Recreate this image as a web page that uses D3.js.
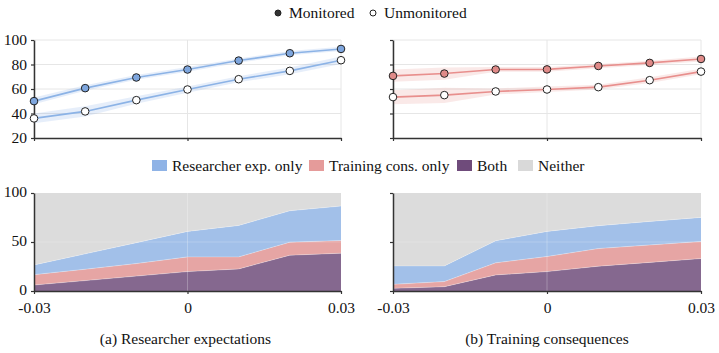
<!DOCTYPE html>
<html><head><meta charset="utf-8">
<script src="https://cdn.jsdelivr.net/npm/d3@7"></script>
<style>
body{margin:0;background:#fff;}
svg{display:block;}
</style></head><body>
<svg id="c" width="719" height="353" font-family="Liberation Serif, serif"></svg>
<script>
const xs = [-0.03,-0.02,-0.01,0,0.01,0.02,0.03];
const xTicks = [-0.03,0,0.03];
const xTickLabels = ["-0.03","0","0.03"];
const yTicksTop = [20,40,60,80,100];
const yTicksBottom = [0,50,100];

// Top panels: compliance rate (%) with CI
const resMon = [50.1,60.7,69.4,75.9,83.2,89.2,92.7];
const resMonLo = [47.5,58.5,67.5,74,81.5,87.5,91];
const resMonHi = [53,63,71.5,78,85,91,94.5];
const resUnmon = [36,41.7,50.9,59.6,68,74.8,83.5];
const resUnmonLo = [32,37.5,48,57,65.5,72,80.5];
const resUnmonHi = [40,46,54,62,70.5,77.5,86.5];
const trMon = [70.7,72.6,75.9,76,78.8,81.3,84.5];
const trMonLo = [66,67.5,74,74,77,79.5,82.5];
const trMonHi = [76,77.5,78,78,80.5,83,86.5];
const trUnmon = [53.4,55,58,59.6,61.5,67.2,74.2];
const trUnmonLo = [47.5,48.5,55.5,57.5,59.5,65,72];
const trUnmonHi = [59,61,60.5,62,63.5,69.5,76.5];

// Bottom panels: stacked shares (%)
const seriesNames = ["Both","Training cons. only","Researcher exp. only","Neither"];
const resBoth = [6.1,10.6,15.2,19.8,22.5,36.5,38.6];
const resTrainOnly = [10.6,11.6,12.8,15,12.3,13.3,12.9];
const resResOnly = [9.9,15.7,21.3,26,32.1,32.1,35.2];
const trBoth = [2.7,4.4,16.4,19.8,25.3,29.2,33.1];
const trTrainOnly = [4.1,5.2,12.3,15.4,18,17.8,17.4];
const trResOnly = [18.8,16,22.5,25.6,23.3,24,24.6];

const svg = d3.select("#c");
const FF = "Liberation Serif, serif";
const FONT = 15.5;
const BLUE = "#8cb3e6", BLUEBAND = "rgba(140,179,230,0.22)", BLUEFILL = "#7ea6de";
const RED = "#e88f8d", REDBAND = "rgba(232,143,141,0.2)", REDFILL = "#e08a88";

const panels = [{x0:34,x1:341},{x0:393,x1:701}];
const topY = {y0:40,y1:138};
const botY = {y0:193,y1:291};

function drawGrid(g, x, y, gridY){
  g.append("g").selectAll("line").data(gridY).join("line")
    .attr("x1",x.range()[0]).attr("x2",x.range()[1])
    .attr("y1",d=>y(d)).attr("y2",d=>y(d))
    .attr("stroke","#e6e6e6").attr("stroke-width",1);
  g.append("g").selectAll("line").data(xTicks).join("line")
    .attr("x1",d=>x(d)).attr("x2",d=>x(d))
    .attr("y1",y.range()[0]).attr("y2",y.range()[1])
    .attr("stroke","#e6e6e6").attr("stroke-width",1);
}
function finishAxes(g, x, y, yTicks, showYLabels, showXLabels){
  const ya = d3.axisLeft(y).tickValues(yTicks).tickSize(3).tickSizeOuter(0)
    .tickFormat(showYLabels? d3.format("d") : "");
  const gy = g.append("g").attr("transform",`translate(${x.range()[0]},0)`).call(ya);
  const xa = d3.axisBottom(x).tickValues(xTicks).tickSize(3).tickSizeOuter(0)
    .tickFormat((d,i)=> showXLabels? xTickLabels[i] : "");
  const gx = g.append("g").attr("transform",`translate(0,${y.range()[0]})`).call(xa);
  [gy,gx].forEach(a=>{
    a.attr("font-family",FF).attr("font-size",FONT);
    a.select(".domain").attr("stroke","#333").attr("stroke-width",1.5);
    a.selectAll(".tick line").attr("stroke","#333").attr("stroke-width",1.2);
    a.selectAll("text").attr("fill","#111");
  });
  gy.selectAll("text").attr("x",-7);
  if (showXLabels) gy.selectAll("text").attr("dy","0.2em");
  gx.selectAll("text").attr("y",10.5);
}

function topPanel(p, mon, monLo, monHi, un, unLo, unHi, col, band, fill, showY){
  const x = d3.scaleLinear().domain([-0.03,0.03]).range([p.x0,p.x1]);
  const y = d3.scaleLinear().domain([20,100]).range([topY.y1,topY.y0]);
  const g = svg.append("g");
  drawGrid(g,x,y,[40,60,80,100]);
  const area = d3.area().x((d,i)=>x(xs[i])).y0(d=>y(d[0])).y1(d=>y(d[1]));
  const line = d3.line().x((d,i)=>x(xs[i])).y(d=>y(d));
  [[monLo,monHi],[unLo,unHi]].forEach(([lo,hi])=>{
    g.append("path").datum(lo.map((v,i)=>[v,hi[i]])).attr("d",area).attr("fill",band);
  });
  [mon,un].forEach(s=>{
    g.append("path").datum(s).attr("d",line).attr("fill","none").attr("stroke",col).attr("stroke-width",1.6);
  });
  finishAxes(g,x,y,yTicksTop,showY,false);
  g.append("g").selectAll("circle").data(mon).join("circle")
    .attr("cx",(d,i)=>x(xs[i])).attr("cy",d=>y(d)).attr("r",3.8)
    .attr("fill",fill).attr("stroke","#222").attr("stroke-width",1);
  g.append("g").selectAll("circle").data(un).join("circle")
    .attr("cx",(d,i)=>x(xs[i])).attr("cy",d=>y(d)).attr("r",3.8)
    .attr("fill","#fff").attr("stroke","#222").attr("stroke-width",1);
}
topPanel(panels[0],resMon,resMonLo,resMonHi,resUnmon,resUnmonLo,resUnmonHi,BLUE,BLUEBAND,BLUEFILL,true);
topPanel(panels[1],trMon,trMonLo,trMonHi,trUnmon,trUnmonLo,trUnmonHi,RED,REDBAND,REDFILL,false);

const stackColors = {"Both":"#85688f","Training cons. only":"#e6a5a4","Researcher exp. only":"#a2c0e9","Neither":"#dcdcdc"};
const legendColors = {"Researcher exp. only":"#8fb3e6","Training cons. only":"#e59b9a","Both":"#6f4b7b","Neither":"#d9d9d9"};

function botPanel(p, both, tOnly, rOnly, showY){
  const x = d3.scaleLinear().domain([-0.03,0.03]).range([p.x0,p.x1]);
  const y = d3.scaleLinear().domain([0,100]).range([botY.y1,botY.y0]);
  const g = svg.append("g");
  const rows = xs.map((xv,i)=>({x:xv,"Both":both[i],"Training cons. only":tOnly[i],"Researcher exp. only":rOnly[i],
    "Neither":100-both[i]-tOnly[i]-rOnly[i]}));
  const stack = d3.stack().keys(seriesNames)(rows);
  const area = d3.area().x(d=>x(d.data.x)).y0(d=>y(d[0])).y1(d=>y(d[1]));
  g.selectAll("path.s").data(stack).join("path").attr("d",area)
    .attr("fill",d=>stackColors[d.key]).attr("stroke","none");
  g.append("line").attr("x1",x(0)).attr("x2",x(0)).attr("y1",y(0)).attr("y2",y(100))
    .attr("stroke","#ffffff").attr("stroke-opacity",0.25);
  g.append("line").attr("x1",x.range()[0]).attr("x2",x.range()[1]).attr("y1",y(50)).attr("y2",y(50))
    .attr("stroke","#ffffff").attr("stroke-opacity",0.2);
  stack.slice(0,3).forEach(s=>{
    g.append("path").datum(s).attr("d",d3.line().x(d=>x(d.data.x)).y(d=>y(d[1])))
      .attr("fill","none").attr("stroke","#fff").attr("stroke-opacity",0.35).attr("stroke-width",0.8);
  });
  finishAxes(g,x,y,yTicksBottom,showY,true);
}
botPanel(panels[0],resBoth,resTrainOnly,resResOnly,true);
botPanel(panels[1],trBoth,trTrainOnly,trResOnly,false);

// Top legend
const lg1 = svg.append("g").attr("font-family",FF).attr("font-size",FONT);
const leg1 = [{name:"Monitored",fill:"#333",x:278},{name:"Unmonitored",fill:"#fff",x:373}];
leg1.forEach(d=>{
  lg1.append("circle").attr("cx",d.x).attr("cy",13).attr("r",3).attr("fill",d.fill).attr("stroke","#222").attr("stroke-width",1);
  lg1.append("text").attr("x",d.x+11).attr("y",13).attr("dy","0.35em").attr("fill","#111").text(d.name);
});

// Bottom legend
const lg2 = svg.append("g").attr("font-family",FF).attr("font-size",FONT);
const leg2 = [{name:"Researcher exp. only",x:152},{name:"Training cons. only",x:309},{name:"Both",x:457},{name:"Neither",x:518}];
leg2.forEach(d=>{
  lg2.append("rect").attr("x",d.x).attr("y",160).attr("width",15).attr("height",11).attr("fill",legendColors[d.name]);
  lg2.append("text").attr("x",d.x+20).attr("y",166).attr("dy","0.35em").attr("fill","#111").text(d.name);
});

// Captions
const cap = svg.append("g").attr("font-family",FF).attr("font-size",FONT).attr("fill","#111").attr("text-anchor","middle");
cap.append("text").attr("x",(panels[0].x0+panels[0].x1)/2 - 2).attr("y",339).attr("dy","0.35em").text("(a) Researcher expectations");
cap.append("text").attr("x",(panels[1].x0+panels[1].x1)/2).attr("y",339).attr("dy","0.35em").text("(b) Training consequences");
</script></body></html>
